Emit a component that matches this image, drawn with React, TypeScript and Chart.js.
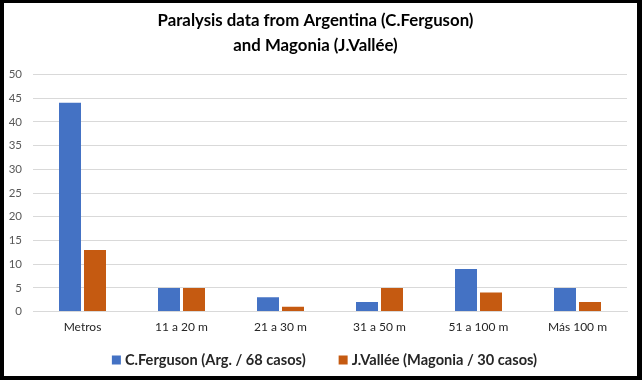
import React, { useEffect, useRef } from "react";
import { Chart, registerables } from "chart.js";

Chart.register(...registerables);

const categories = ["Metros", "11 a 20 m", "21 a 30 m", "31 a 50 m", "51 a 100 m", "Más 100 m"];
const fergusonValues = [44, 5, 3, 2, 9, 5];
const valleeValues = [13, 5, 1, 5, 4, 2];
const seriesNames = ["C.Ferguson (Arg. / 68 casos)", "J.Vallée (Magonia / 30 casos)"];
const seriesColors = ["#4472C4", "#C55A11"];
const titleLines = ["Paralysis data from Argentina (C.Ferguson)", "and Magonia (J.Vallée)"];

const FONT = "Lato, 'Open Sans', sans-serif";

const bottomLegend = {
  id: "bottomLegend",
  afterDraw(chart: any) {
    const ctx = chart.ctx as CanvasRenderingContext2D;
    const ds = chart.data.datasets;
    ctx.save();
    ctx.font = `bold 14.6px ${FONT}`;
    ctx.textBaseline = "middle";
    ctx.textAlign = "left";
    const box = 9;
    const gap = 4;
    const itemGap = 33;
    const widths = ds.map((d: any) => ctx.measureText(d.label).width);
    const total = widths.reduce((a: number, w: number) => a + box + gap + w, 0) + itemGap * (ds.length - 1);
    let x = chart.width / 2 + 4 - total / 2;
    const y = chart.height - 16;
    ds.forEach((d: any, i: number) => {
      ctx.fillStyle = d.backgroundColor;
      ctx.fillRect(x, y - box / 2, box, box);
      ctx.fillStyle = "#262626";
      ctx.fillText(d.label, x + box + gap, y + 0.5);
      x += box + gap + widths[i] + itemGap;
    });
    ctx.restore();
  },
};

export default function App() {
  const ref = useRef<HTMLCanvasElement | null>(null);

  useEffect(() => {
    document.body.style.margin = "0";
    const canvas = ref.current;
    if (!canvas) return;
    const chart = new Chart(canvas, {
      type: "bar",
      data: {
        labels: categories,
        datasets: [
          {
            label: seriesNames[0],
            data: fergusonValues,
            backgroundColor: seriesColors[0],
            categoryPercentage: 0.505,
            barPercentage: 0.88,
          },
          {
            label: seriesNames[1],
            data: valleeValues,
            backgroundColor: seriesColors[1],
            categoryPercentage: 0.505,
            barPercentage: 0.88,
          },
        ],
      },
      options: {
        responsive: false,
        animation: false,
        layout: { padding: { left: 0, right: 10, top: 0, bottom: 34 } },
        plugins: {
          title: {
            display: true,
            text: titleLines,
            color: "#000000",
            font: { family: FONT, size: 16.8, weight: "bold", lineHeight: 1.5 },
            padding: { top: 5, bottom: 16 },
          },
          legend: { display: false },
          tooltip: { enabled: false },
        },
        scales: {
          x: {
            grid: { display: false, drawTicks: false },
            border: { color: "#d9d9d9" },
            ticks: { color: "#262626", font: { family: FONT, size: 12 }, padding: 8 },
          },
          y: {
            min: 0,
            max: 50,
            afterFit: (s: any) => {
              s.width = 29;
            },
            ticks: { stepSize: 5, color: "#595959", font: { family: FONT, size: 11.5 }, padding: 11 },
            grid: { color: "#d9d9d9", drawTicks: false },
            border: { display: false },
          },
        },
      },
      plugins: [bottomLegend],
    });
    return () => chart.destroy();
  }, []);

  return (
    <div
      style={{
        position: "absolute",
        left: 0,
        top: 0,
        width: 642,
        height: 380,
        boxSizing: "border-box",
        borderStyle: "solid",
        borderColor: "#000",
        borderWidth: "3px 5px 4px 4px",
        background: "#fff",
      }}
    >
      <canvas ref={ref} width={633} height={373} style={{ display: "block" }} />
    </div>
  );
}
